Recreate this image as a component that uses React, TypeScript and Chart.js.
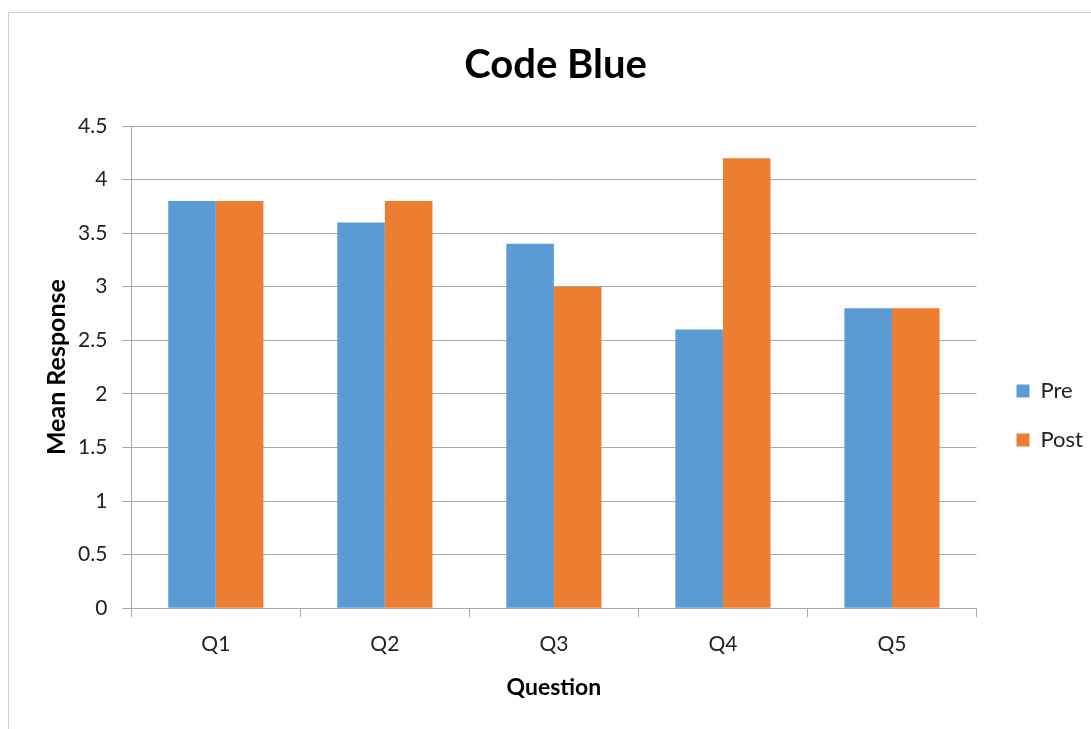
import React, { useEffect, useRef } from "react";
import { Chart, registerables } from "chart.js";

Chart.register(...registerables);

const categories = ["Q1", "Q2", "Q3", "Q4", "Q5"];
const preValues = [3.8, 3.6, 3.4, 2.6, 2.8];
const postValues = [3.8, 3.8, 3.0, 4.2, 2.8];
const seriesNames = ["Pre", "Post"];
const chartTitle = "Code Blue";
const yTitle = "Mean Response";
const xTitle = "Question";

const FONT = "Lato, 'Open Sans', sans-serif";
const GRID = "#A9A9A9";
const LEGEND_DX = 13;
const LEGEND_DY = 65;

const borderPlugin = {
  id: "outerBorder",
  beforeDraw(chart: any) {
    const ctx = chart.ctx;
    ctx.save();
    ctx.fillStyle = "#ffffff";
    ctx.fillRect(0, 0, chart.width, chart.height);
    ctx.strokeStyle = "#D0D0D0";
    ctx.lineWidth = 1;
    ctx.strokeRect(8.5, 12.5, chart.width + 20, chart.height + 20);
    ctx.restore();
  },
};

const legendShift = {
  id: "legendShift",
  afterLayout(chart: any) {
    const lg = chart.legend;
    if (!lg) return;
    lg.left += LEGEND_DX;
    lg.right += LEGEND_DX;
    lg.top += LEGEND_DY;
    lg.bottom += LEGEND_DY;
  },
};

export default function App() {
  const ref = useRef<HTMLCanvasElement | null>(null);
  useEffect(() => {
    if (!ref.current) return;
    const chart = new Chart(ref.current, {
      type: "bar",
      data: {
        labels: categories,
        datasets: [
          {
            label: seriesNames[0],
            data: preValues,
            backgroundColor: "#5B9BD5",
            categoryPercentage: 0.563,
            barPercentage: 1,
          },
          {
            label: seriesNames[1],
            data: postValues,
            backgroundColor: "#ED7D31",
            categoryPercentage: 0.563,
            barPercentage: 1,
          },
        ],
      },
      options: {
        responsive: true,
        maintainAspectRatio: false,
        animation: false,
        layout: { padding: { left: 31, right: 11, bottom: 28, top: 0 } },
        plugins: {
          tooltip: { enabled: false },
          title: {
            display: true,
            text: chartTitle,
            color: "#000",
            font: { family: FONT, size: 40, weight: "bold" },
            padding: { top: 41, bottom: 37 },
          },
          legend: {
            position: "right",
            labels: {
              boxWidth: 13,
              boxHeight: 13,
              color: "#222",
              font: { family: FONT, size: 22 },
              padding: 27,
            },
          },
        },
        scales: {
          x: {
            grid: {
              display: true,
              drawOnChartArea: false,
              drawTicks: true,
              tickLength: 9,
              color: GRID,
              offset: true,
            },
            border: { color: GRID },
            ticks: {
              color: "#222",
              font: { family: FONT, size: 21 },
              padding: 14,
            },
            title: {
              display: true,
              text: xTitle,
              color: "#000",
              font: { family: FONT, size: 23, weight: "bold" },
              padding: { top: 3, bottom: 0 },
            },
          },
          y: {
            min: 0,
            max: 4.5,
            ticks: {
              stepSize: 0.5,
              color: "#222",
              font: { family: FONT, size: 21 },
              padding: 15,
              callback: (v: any) => String(Number(v)),
            },
            grid: { color: GRID, tickLength: 9 },
            border: { color: GRID },
            title: {
              display: true,
              text: yTitle,
              color: "#000",
              font: { family: FONT, size: 25, weight: "bold" },
              padding: { top: 11, bottom: -9 },
            },
          },
        },
      },
      plugins: [borderPlugin, legendShift],
    });
    return () => chart.destroy();
  }, []);
  return (
    <div style={{ position: "absolute", left: 0, top: 0, width: 1091, height: 729 }}>
      <canvas ref={ref} />
    </div>
  );
}
